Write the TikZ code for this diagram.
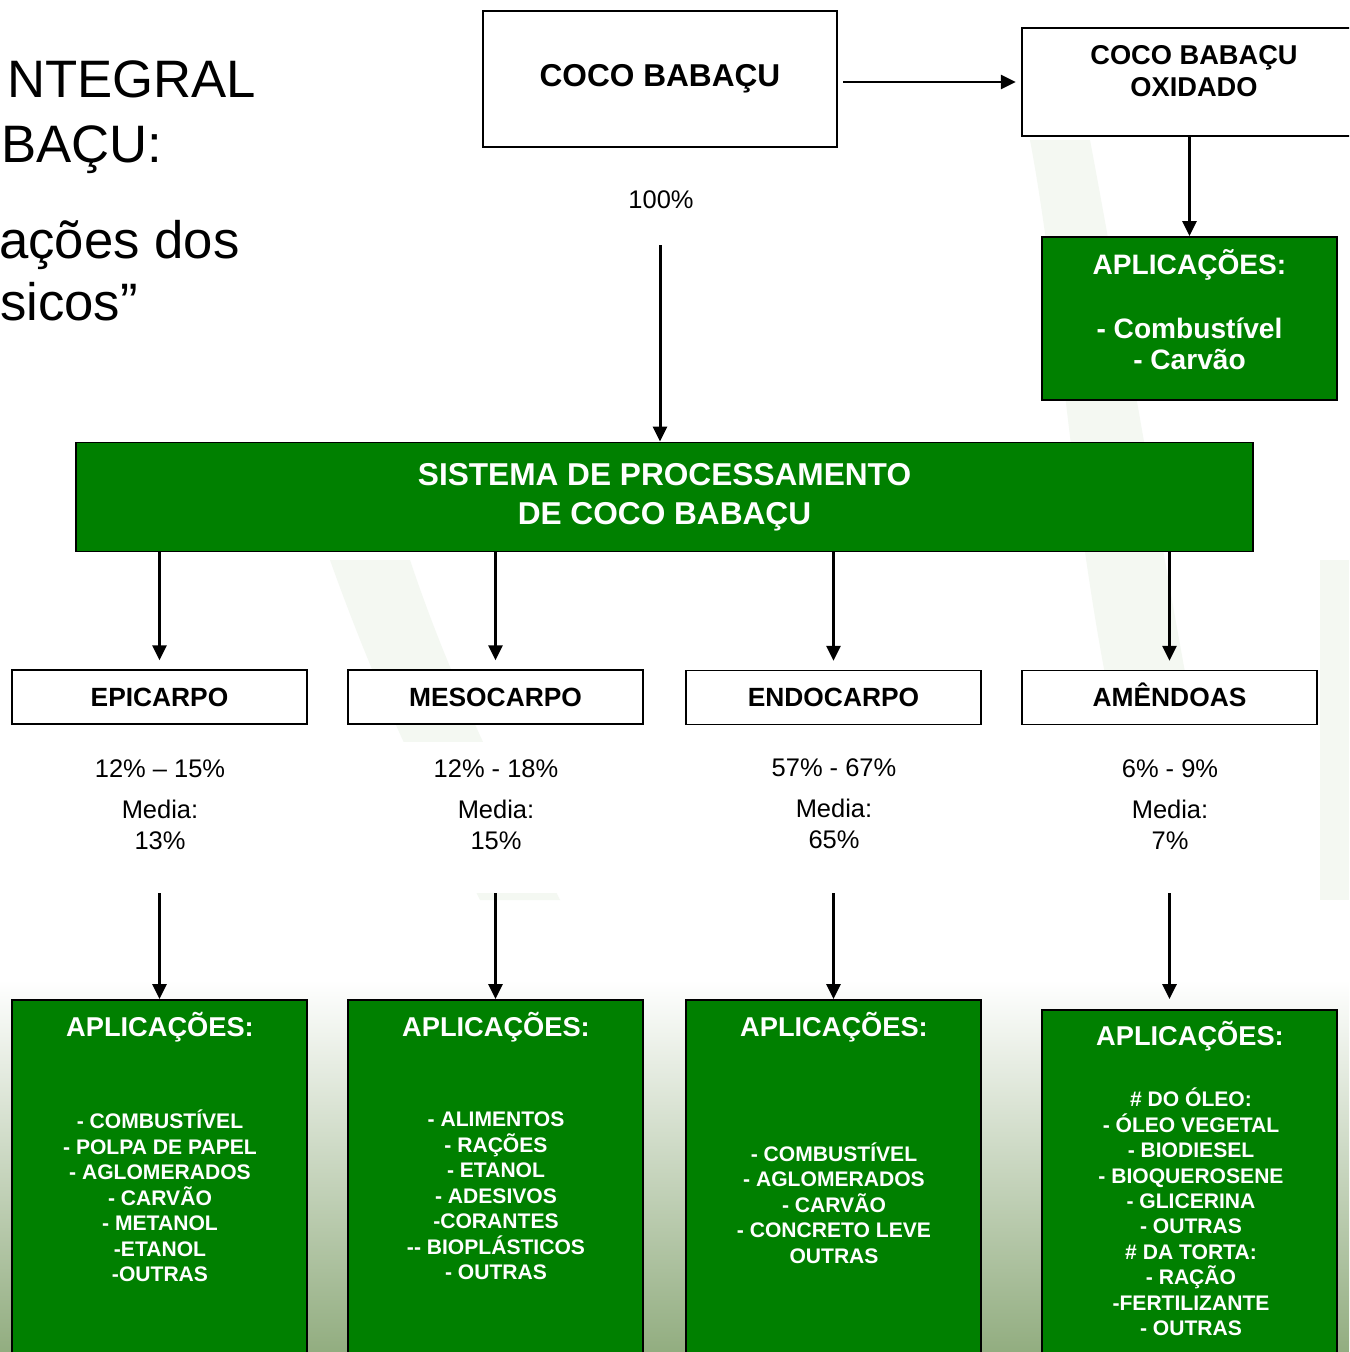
\documentclass[tikz,border=0pt]{standalone}
\usepackage{fontspec}
\setmainfont{Liberation Sans}
\usetikzlibrary{positioning,arrows.meta}

\definecolor{babgreen}{RGB}{0,128,0}
\definecolor{bgfade}{RGB}{146,173,128}
\definecolor{bgshape}{RGB}{244,248,242}

\tikzset{
  whitebox/.style={draw=black, line width=1.1pt, fill=white, minimum width=5.9cm, minimum height=1.08cm,
    text height=10.8pt, text depth=0pt, font=\bfseries\fontsize{15}{18}\selectfont},
  greenbox/.style={draw=black, line width=1.1pt, fill=babgreen, minimum width=5.9cm, text=white, align=center},
  headtxt/.style={text=white, font=\bfseries\fontsize{15.5}{18}\selectfont},
  listtxt/.style={text=white, align=center, font=\bfseries\fontsize{12}{14.5}\selectfont},
  pctpanel/.style={fill=white, minimum width=5.9cm, minimum height=3.02cm},
  pcttxt/.style={align=center, font=\fontsize{14.5}{18}\selectfont},
  flow/.style={-{Triangle[length=0.3cm,width=0.28cm]}, line width=1.7pt},
}

\begin{document}
\begin{tikzpicture}[x=0.02cm, y=-0.02cm]
  % page and background
  \clip (0,0) rectangle (1349,1352);
  \fill[white] (0,0) rectangle (1349,1352);
  \shade[top color=white, bottom color=bgfade] (0,980) rectangle (1349,1352);
  \fill[bgshape] (1030,140) .. controls (1060,300) and (1070,500) .. (1110,700) -- (1190,700) .. controls (1150,480) and (1120,300) .. (1090,140) -- cycle;
  \fill[bgshape] (330,560) .. controls (380,700) and (430,800) .. (480,900) -- (560,900) .. controls (500,780) and (450,680) .. (410,560) -- cycle;
  \fill[bgshape] (1320,560) rectangle (1349,900);

  % title (cut at the left edge)
  \node[anchor=base west, font=\fontsize{30}{36}\selectfont] (ttl1) at (1,97) {NTEGRAL};
  \node[anchor=base west, font=\fontsize{30}{36}\selectfont] (ttl2) at (-5,162) {BAÇU:};
  \node[anchor=base west, font=\fontsize{30}{36}\selectfont] (ttl3) at (-7,258) {ações dos};
  \node[anchor=base west, font=\fontsize{30}{36}\selectfont] (ttl4) at (-6,320) {sicos”};

  % top row
  \node[draw=black, line width=1.1pt, fill=white, minimum width=7.08cm, minimum height=2.72cm,
    font=\bfseries\fontsize{18}{22}\selectfont] (coco) at (660,79) {COCO BABAÇU};
  \node[draw=black, line width=1.1pt, fill=white, minimum width=6.88cm, minimum height=2.16cm] (oxid) at (1194,82) {};
  \node[align=center, font=\bfseries\fontsize{15.5}{18}\selectfont] (oxidtxt) at (1194,71) {COCO BABAÇU\\OXIDADO};
  \node[greenbox, minimum height=3.26cm] (appox) at (1189.5,318.5) {};
  \node[text=white, align=center, font=\bfseries\fontsize{16}{18}\selectfont] (appoxtxt) at (1189.5,310)
    {APLICAÇÕES:\\[18pt]- Combustível\\- Carvão};

  \node[font=\fontsize{14.5}{18}\selectfont] (total) at (661,200) {100\%};
  \coordinate (start) at (660,245);

  % processing system
  \node[greenbox, minimum width=23.54cm, minimum height=2.18cm, font=\bfseries\fontsize{18}{22}\selectfont]
    (sistema) at (664.5,497) {SISTEMA DE PROCESSAMENTO\\DE COCO BABAÇU};

  % fruit parts
  \node[whitebox] (epi) at (159.5,697) {EPICARPO};
  \node[whitebox] (meso) at (495.5,697) {MESOCARPO};
  \node[whitebox] (endo) at (833.5,697.5) {ENDOCARPO};
  \node[whitebox] (amen) at (1169.5,697.5) {AMÊNDOAS};

  % percentages
  \node[pctpanel] (pan1) at (159.5,817.5) {};
  \node[pctpanel] (pan2) at (495.5,817.5) {};
  \node[pctpanel] (pan3) at (833.5,817.5) {};
  \node[pctpanel] (pan4) at (1169.5,817.5) {};
  \node[pcttxt] (pct1) at (160,805) {12\% – 15\%\\[5pt]Media:\\13\%};
  \node[pcttxt] (pct2) at (496,805) {12\% - 18\%\\[5pt]Media:\\15\%};
  \node[pcttxt] (pct3) at (834,804) {57\% - 67\%\\[5pt]Media:\\65\%};
  \node[pcttxt] (pct4) at (1170,805) {6\% - 9\%\\[5pt]Media:\\7\%};

  % applications
  \node[greenbox, minimum height=7.4cm] (app1) at (159.5,1185) {};
  \node[greenbox, minimum height=7.4cm] (app2) at (495.5,1185) {};
  \node[greenbox, minimum height=7.4cm] (app3) at (833.5,1185) {};
  \node[greenbox, minimum height=7.4cm] (app4) at (1189.5,1195) {};
  \node[headtxt] (head1) at (160,1027) {APLICAÇÕES:};
  \node[headtxt] (head2) at (496,1027) {APLICAÇÕES:};
  \node[headtxt] (head3) at (834,1027) {APLICAÇÕES:};
  \node[headtxt] (head4) at (1190,1036) {APLICAÇÕES:};
  \node[listtxt] (list1) at (160,1196) {- COMBUSTÍVEL\\- POLPA DE PAPEL\\- AGLOMERADOS\\- CARVÃO\\- METANOL\\-ETANOL\\-OUTRAS};
  \node[listtxt] (list2) at (496,1196) {- ALIMENTOS\\- RAÇÕES\\- ETANOL\\- ADESIVOS\\-CORANTES\\-{}- BIOPLÁSTICOS\\- OUTRAS};
  \node[listtxt] (list3) at (834,1203) {- COMBUSTÍVEL\\- AGLOMERADOS\\- CARVÃO\\- CONCRETO LEVE\\OUTRAS};
  \node[listtxt] (list4) at (1191,1212) {\# DO ÓLEO:\\- ÓLEO VEGETAL\\- BIODIESEL\\- BIOQUEROSENE\\- GLICERINA\\- OUTRAS\\\# DA TORTA:\\- RAÇÃO\\-FERTILIZANTE\\- OUTRAS};

  % arrows
  \draw[flow] ([xshift=3pt]coco.east |- oxid.west) -- ([xshift=-3pt]oxid.west);
  \draw[flow] (appox.north |- oxid.south) -- (appox.north);
  \draw[flow] (start) -- (start |- sistema.north);
  \draw[flow] (epi.north |- sistema.south) -- ([yshift=5pt]epi.north);
  \draw[flow] (meso.north |- sistema.south) -- ([yshift=5pt]meso.north);
  \draw[flow] (endo.north |- sistema.south) -- ([yshift=5pt]endo.north);
  \draw[flow] (amen.north |- sistema.south) -- ([yshift=5pt]amen.north);
  \draw[flow] (pan1.south) -- (app1.north);
  \draw[flow] (pan2.south) -- (app2.north);
  \draw[flow] (pan3.south) -- (app3.north);
  \draw[flow, shorten >=0.2cm] (pan4.south) -- (pan4.south |- app4.north);
\end{tikzpicture}
\end{document}
